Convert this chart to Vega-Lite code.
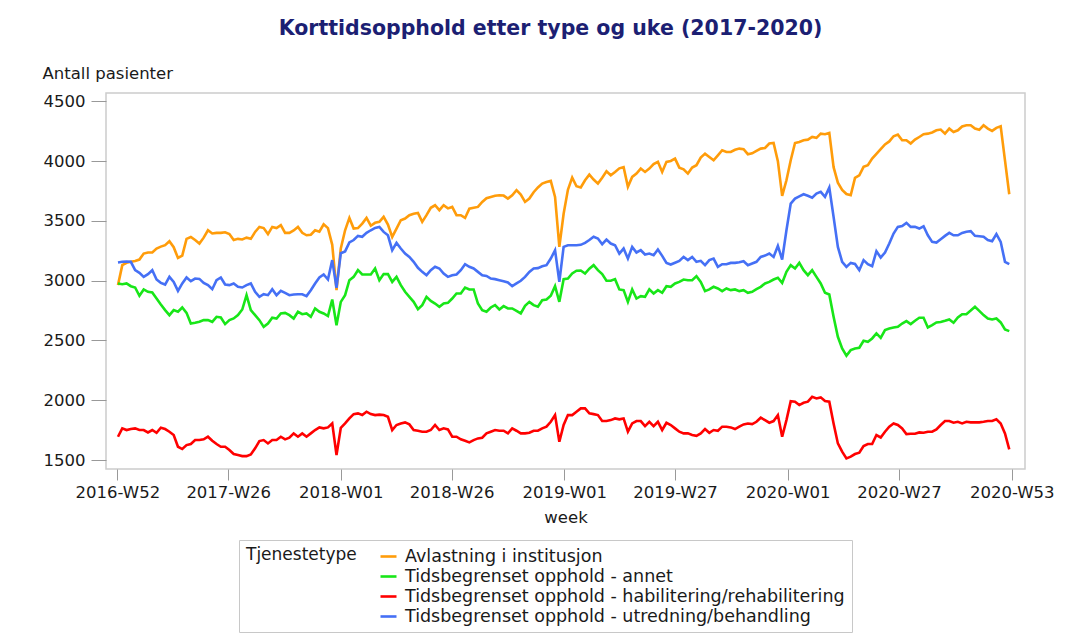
{
"$schema": "https://vega.github.io/schema/vega-lite/v6.json",
"width": 919, "height": 376,
"autosize": {"type": "none"},
"padding": {"left": 106, "top": 93, "right": 58, "bottom": 168},
"background": "white",
"title": {"text": "Korttidsopphold etter type og uke (2017-2020)", "font": "DejaVu Sans", "fontSize": 20.5, "fontWeight": "bold", "color": "#1c1f73", "anchor": "middle", "frame": "group", "offset": 26, "dx": -15},
"data": {"values": [
{"d":"2017-01-02","A":2963,"G":2977,"R":1695,"B":3152},
{"d":"2017-01-09","A":3130,"G":2971,"R":1765,"B":3158},
{"d":"2017-01-16","A":3150,"G":2977,"R":1751,"B":3160},
{"d":"2017-01-23","A":3158,"G":2954,"R":1759,"B":3158},
{"d":"2017-01-30","A":3165,"G":2943,"R":1765,"B":3088},
{"d":"2017-02-06","A":3177,"G":2874,"R":1751,"B":3066},
{"d":"2017-02-13","A":3227,"G":2927,"R":1751,"B":3032},
{"d":"2017-02-20","A":3236,"G":2907,"R":1731,"B":3055},
{"d":"2017-02-27","A":3236,"G":2901,"R":1751,"B":3088},
{"d":"2017-03-06","A":3269,"G":2851,"R":1728,"B":3010},
{"d":"2017-03-13","A":3285,"G":2801,"R":1770,"B":2982},
{"d":"2017-03-20","A":3297,"G":2754,"R":1759,"B":2968},
{"d":"2017-03-27","A":3330,"G":2712,"R":1737,"B":3032},
{"d":"2017-04-03","A":3280,"G":2754,"R":1709,"B":2990},
{"d":"2017-04-10","A":3190,"G":2740,"R":1611,"B":2915},
{"d":"2017-04-17","A":3210,"G":2776,"R":1592,"B":2977},
{"d":"2017-04-24","A":3350,"G":2731,"R":1625,"B":3027},
{"d":"2017-05-01","A":3366,"G":2642,"R":1634,"B":2996},
{"d":"2017-05-08","A":3340,"G":2648,"R":1667,"B":3018},
{"d":"2017-05-15","A":3311,"G":2656,"R":1667,"B":3015},
{"d":"2017-05-22","A":3360,"G":2670,"R":1673,"B":2982},
{"d":"2017-05-29","A":3422,"G":2670,"R":1695,"B":2963},
{"d":"2017-06-05","A":3395,"G":2656,"R":1662,"B":2929},
{"d":"2017-06-12","A":3400,"G":2698,"R":1634,"B":3004},
{"d":"2017-06-19","A":3400,"G":2692,"R":1611,"B":3027},
{"d":"2017-06-26","A":3405,"G":2637,"R":1611,"B":2968},
{"d":"2017-07-03","A":3390,"G":2670,"R":1584,"B":2963},
{"d":"2017-07-10","A":3340,"G":2684,"R":1550,"B":2977},
{"d":"2017-07-17","A":3350,"G":2712,"R":1542,"B":2949},
{"d":"2017-07-24","A":3345,"G":2759,"R":1533,"B":2943},
{"d":"2017-07-31","A":3360,"G":2879,"R":1533,"B":2963},
{"d":"2017-08-07","A":3350,"G":2754,"R":1547,"B":2977},
{"d":"2017-08-14","A":3408,"G":2712,"R":1598,"B":2907},
{"d":"2017-08-21","A":3450,"G":2670,"R":1659,"B":2865},
{"d":"2017-08-28","A":3440,"G":2614,"R":1667,"B":2887},
{"d":"2017-09-04","A":3390,"G":2642,"R":1639,"B":2879},
{"d":"2017-09-11","A":3450,"G":2690,"R":1667,"B":2929},
{"d":"2017-09-18","A":3440,"G":2684,"R":1667,"B":2879},
{"d":"2017-09-25","A":3464,"G":2726,"R":1695,"B":2915},
{"d":"2017-10-02","A":3400,"G":2731,"R":1673,"B":2898},
{"d":"2017-10-09","A":3400,"G":2712,"R":1687,"B":2879},
{"d":"2017-10-16","A":3420,"G":2684,"R":1723,"B":2885},
{"d":"2017-10-23","A":3450,"G":2740,"R":1695,"B":2887},
{"d":"2017-10-30","A":3400,"G":2720,"R":1723,"B":2887},
{"d":"2017-11-06","A":3380,"G":2726,"R":1695,"B":2871},
{"d":"2017-11-13","A":3385,"G":2698,"R":1723,"B":2921},
{"d":"2017-11-20","A":3422,"G":2768,"R":1751,"B":2977},
{"d":"2017-11-27","A":3410,"G":2740,"R":1773,"B":3027},
{"d":"2017-12-04","A":3472,"G":2726,"R":1765,"B":3052},
{"d":"2017-12-11","A":3440,"G":2704,"R":1773,"B":3010},
{"d":"2017-12-18","A":3300,"G":2843,"R":1806,"B":3172},
{"d":"2017-12-25","A":2921,"G":2628,"R":1542,"B":2940},
{"d":"2018-01-01","A":3270,"G":2823,"R":1770,"B":3230},
{"d":"2018-01-08","A":3422,"G":2879,"R":1806,"B":3245},
{"d":"2018-01-15","A":3525,"G":3004,"R":1848,"B":3320},
{"d":"2018-01-22","A":3436,"G":3032,"R":1884,"B":3340},
{"d":"2018-01-29","A":3440,"G":3088,"R":1890,"B":3375},
{"d":"2018-02-05","A":3478,"G":3052,"R":1876,"B":3367},
{"d":"2018-02-12","A":3525,"G":3052,"R":1904,"B":3400},
{"d":"2018-02-19","A":3460,"G":3052,"R":1884,"B":3422},
{"d":"2018-02-26","A":3484,"G":3102,"R":1876,"B":3442},
{"d":"2018-03-05","A":3492,"G":3004,"R":1880,"B":3450},
{"d":"2018-03-12","A":3534,"G":3055,"R":1876,"B":3408},
{"d":"2018-03-19","A":3470,"G":3055,"R":1862,"B":3380},
{"d":"2018-03-26","A":3366,"G":2990,"R":1751,"B":3255},
{"d":"2018-04-02","A":3436,"G":3032,"R":1793,"B":3316},
{"d":"2018-04-09","A":3506,"G":2963,"R":1806,"B":3269},
{"d":"2018-04-16","A":3520,"G":2907,"R":1815,"B":3227},
{"d":"2018-04-23","A":3548,"G":2865,"R":1798,"B":3199},
{"d":"2018-04-30","A":3560,"G":2823,"R":1751,"B":3158},
{"d":"2018-05-07","A":3567,"G":2762,"R":1745,"B":3108},
{"d":"2018-05-14","A":3492,"G":2796,"R":1737,"B":3074},
{"d":"2018-05-21","A":3548,"G":2865,"R":1737,"B":3046},
{"d":"2018-05-28","A":3610,"G":2831,"R":1751,"B":3088},
{"d":"2018-06-04","A":3631,"G":2809,"R":1793,"B":3116},
{"d":"2018-06-11","A":3590,"G":2782,"R":1751,"B":3102},
{"d":"2018-06-18","A":3631,"G":2809,"R":1765,"B":3060},
{"d":"2018-06-25","A":3605,"G":2815,"R":1756,"B":3032},
{"d":"2018-07-02","A":3617,"G":2851,"R":1695,"B":3046},
{"d":"2018-07-09","A":3548,"G":2893,"R":1695,"B":3052},
{"d":"2018-07-16","A":3548,"G":2893,"R":1673,"B":3088},
{"d":"2018-07-23","A":3525,"G":2943,"R":1662,"B":3138},
{"d":"2018-07-30","A":3603,"G":2927,"R":1648,"B":3116},
{"d":"2018-08-06","A":3610,"G":2927,"R":1667,"B":3102},
{"d":"2018-08-13","A":3617,"G":2809,"R":1681,"B":3074},
{"d":"2018-08-20","A":3659,"G":2754,"R":1687,"B":3046},
{"d":"2018-08-27","A":3690,"G":2740,"R":1723,"B":3040},
{"d":"2018-09-03","A":3700,"G":2776,"R":1737,"B":3018},
{"d":"2018-09-10","A":3710,"G":2796,"R":1751,"B":3013},
{"d":"2018-09-17","A":3715,"G":2759,"R":1745,"B":3004},
{"d":"2018-09-24","A":3712,"G":2787,"R":1745,"B":2995},
{"d":"2018-10-01","A":3687,"G":2768,"R":1723,"B":2985},
{"d":"2018-10-08","A":3715,"G":2768,"R":1765,"B":2954},
{"d":"2018-10-15","A":3757,"G":2748,"R":1745,"B":2977},
{"d":"2018-10-22","A":3720,"G":2726,"R":1723,"B":2999},
{"d":"2018-10-29","A":3659,"G":2790,"R":1723,"B":3032},
{"d":"2018-11-05","A":3687,"G":2823,"R":1728,"B":3074},
{"d":"2018-11-12","A":3740,"G":2796,"R":1745,"B":3102},
{"d":"2018-11-19","A":3780,"G":2782,"R":1745,"B":3105},
{"d":"2018-11-26","A":3812,"G":2837,"R":1765,"B":3121},
{"d":"2018-12-03","A":3825,"G":2843,"R":1779,"B":3130},
{"d":"2018-12-10","A":3835,"G":2874,"R":1820,"B":3185},
{"d":"2018-12-17","A":3700,"G":2954,"R":1876,"B":3255},
{"d":"2018-12-24","A":3283,"G":2823,"R":1653,"B":2990},
{"d":"2018-12-31","A":3560,"G":3013,"R":1793,"B":3283},
{"d":"2019-01-07","A":3760,"G":3018,"R":1876,"B":3297},
{"d":"2019-01-14","A":3862,"G":3060,"R":1876,"B":3297},
{"d":"2019-01-21","A":3790,"G":3083,"R":1904,"B":3297},
{"d":"2019-01-28","A":3780,"G":3085,"R":1932,"B":3300},
{"d":"2019-02-04","A":3840,"G":3060,"R":1932,"B":3316},
{"d":"2019-02-11","A":3887,"G":3100,"R":1890,"B":3340},
{"d":"2019-02-18","A":3846,"G":3130,"R":1884,"B":3367},
{"d":"2019-02-25","A":3812,"G":3088,"R":1876,"B":3353},
{"d":"2019-03-04","A":3862,"G":3055,"R":1826,"B":3305},
{"d":"2019-03-11","A":3915,"G":2999,"R":1826,"B":3344},
{"d":"2019-03-18","A":3882,"G":2999,"R":1834,"B":3311},
{"d":"2019-03-25","A":3910,"G":3013,"R":1848,"B":3297},
{"d":"2019-04-01","A":3940,"G":2927,"R":1840,"B":3227},
{"d":"2019-04-08","A":3950,"G":2921,"R":1848,"B":3269},
{"d":"2019-04-15","A":3785,"G":2823,"R":1737,"B":3185},
{"d":"2019-04-22","A":3868,"G":2927,"R":1806,"B":3283},
{"d":"2019-04-29","A":3896,"G":2851,"R":1826,"B":3236},
{"d":"2019-05-06","A":3938,"G":2871,"R":1826,"B":3255},
{"d":"2019-05-13","A":3910,"G":2865,"R":1784,"B":3219},
{"d":"2019-05-20","A":3938,"G":2927,"R":1820,"B":3227},
{"d":"2019-05-27","A":3975,"G":2893,"R":1784,"B":3213},
{"d":"2019-06-03","A":3994,"G":2921,"R":1820,"B":3261},
{"d":"2019-06-10","A":3910,"G":2899,"R":1751,"B":3208},
{"d":"2019-06-17","A":3994,"G":2954,"R":1812,"B":3149},
{"d":"2019-06-24","A":4002,"G":2949,"R":1793,"B":3135},
{"d":"2019-07-01","A":4021,"G":2977,"R":1765,"B":3150},
{"d":"2019-07-08","A":3946,"G":2990,"R":1737,"B":3165},
{"d":"2019-07-15","A":3932,"G":3010,"R":1723,"B":3199},
{"d":"2019-07-22","A":3896,"G":3004,"R":1723,"B":3172},
{"d":"2019-07-29","A":3946,"G":3004,"R":1710,"B":3199},
{"d":"2019-08-05","A":3966,"G":3038,"R":1703,"B":3158},
{"d":"2019-08-12","A":4030,"G":2990,"R":1723,"B":3166},
{"d":"2019-08-19","A":4063,"G":2913,"R":1759,"B":3130},
{"d":"2019-08-26","A":4035,"G":2927,"R":1728,"B":3172},
{"d":"2019-09-02","A":4007,"G":2949,"R":1751,"B":3185},
{"d":"2019-09-09","A":4049,"G":2935,"R":1745,"B":3116},
{"d":"2019-09-16","A":4091,"G":2913,"R":1779,"B":3138},
{"d":"2019-09-23","A":4077,"G":2935,"R":1779,"B":3138},
{"d":"2019-09-30","A":4077,"G":2921,"R":1773,"B":3149},
{"d":"2019-10-07","A":4095,"G":2927,"R":1759,"B":3149},
{"d":"2019-10-14","A":4105,"G":2913,"R":1779,"B":3155},
{"d":"2019-10-21","A":4100,"G":2921,"R":1798,"B":3163},
{"d":"2019-10-28","A":4058,"G":2899,"R":1806,"B":3130},
{"d":"2019-11-04","A":4065,"G":2907,"R":1801,"B":3144},
{"d":"2019-11-11","A":4085,"G":2929,"R":1820,"B":3158},
{"d":"2019-11-18","A":4105,"G":2949,"R":1854,"B":3199},
{"d":"2019-11-25","A":4110,"G":2977,"R":1834,"B":3210},
{"d":"2019-12-02","A":4147,"G":2990,"R":1812,"B":3227},
{"d":"2019-12-09","A":4152,"G":3010,"R":1826,"B":3199},
{"d":"2019-12-16","A":4000,"G":3025,"R":1876,"B":3291},
{"d":"2019-12-23","A":3710,"G":2982,"R":1695,"B":3177},
{"d":"2019-12-30","A":3840,"G":3074,"R":1834,"B":3422},
{"d":"2020-01-06","A":4007,"G":3130,"R":1993,"B":3645},
{"d":"2020-01-13","A":4152,"G":3102,"R":1988,"B":3687},
{"d":"2020-01-20","A":4160,"G":3149,"R":1960,"B":3706},
{"d":"2020-01-27","A":4175,"G":3088,"R":1979,"B":3723},
{"d":"2020-02-03","A":4180,"G":3046,"R":1988,"B":3710},
{"d":"2020-02-10","A":4202,"G":3088,"R":2029,"B":3695},
{"d":"2020-02-17","A":4195,"G":3032,"R":2015,"B":3729},
{"d":"2020-02-24","A":4230,"G":2977,"R":2024,"B":3743},
{"d":"2020-03-02","A":4225,"G":2899,"R":1993,"B":3701},
{"d":"2020-03-09","A":4236,"G":2885,"R":1988,"B":3779},
{"d":"2020-03-16","A":3950,"G":2698,"R":1806,"B":3534},
{"d":"2020-03-23","A":3820,"G":2531,"R":1639,"B":3283},
{"d":"2020-03-30","A":3760,"G":2433,"R":1570,"B":3158},
{"d":"2020-04-06","A":3725,"G":2372,"R":1514,"B":3116},
{"d":"2020-04-13","A":3715,"G":2419,"R":1528,"B":3149},
{"d":"2020-04-20","A":3860,"G":2433,"R":1550,"B":3140},
{"d":"2020-04-27","A":3882,"G":2439,"R":1561,"B":3088},
{"d":"2020-05-04","A":3952,"G":2497,"R":1617,"B":3172},
{"d":"2020-05-11","A":3966,"G":2489,"R":1634,"B":3138},
{"d":"2020-05-18","A":4021,"G":2517,"R":1634,"B":3121},
{"d":"2020-05-25","A":4060,"G":2559,"R":1709,"B":3247},
{"d":"2020-06-01","A":4100,"G":2522,"R":1689,"B":3194},
{"d":"2020-06-08","A":4140,"G":2587,"R":1737,"B":3236},
{"d":"2020-06-15","A":4165,"G":2600,"R":1779,"B":3311},
{"d":"2020-06-22","A":4208,"G":2609,"R":1806,"B":3394},
{"d":"2020-06-29","A":4222,"G":2614,"R":1793,"B":3450},
{"d":"2020-07-06","A":4175,"G":2642,"R":1765,"B":3458},
{"d":"2020-07-13","A":4175,"G":2662,"R":1717,"B":3484},
{"d":"2020-07-20","A":4147,"G":2637,"R":1720,"B":3450},
{"d":"2020-07-27","A":4180,"G":2665,"R":1720,"B":3450},
{"d":"2020-08-03","A":4202,"G":2690,"R":1731,"B":3436},
{"d":"2020-08-10","A":4225,"G":2690,"R":1728,"B":3455},
{"d":"2020-08-17","A":4230,"G":2609,"R":1737,"B":3380},
{"d":"2020-08-24","A":4240,"G":2628,"R":1737,"B":3325},
{"d":"2020-08-31","A":4258,"G":2651,"R":1756,"B":3319},
{"d":"2020-09-07","A":4264,"G":2655,"R":1793,"B":3347},
{"d":"2020-09-14","A":4230,"G":2665,"R":1826,"B":3375},
{"d":"2020-09-21","A":4272,"G":2676,"R":1826,"B":3400},
{"d":"2020-09-28","A":4244,"G":2648,"R":1812,"B":3380},
{"d":"2020-10-05","A":4258,"G":2692,"R":1820,"B":3380},
{"d":"2020-10-12","A":4290,"G":2720,"R":1806,"B":3400},
{"d":"2020-10-19","A":4300,"G":2720,"R":1820,"B":3410},
{"d":"2020-10-26","A":4300,"G":2750,"R":1815,"B":3414},
{"d":"2020-11-02","A":4272,"G":2782,"R":1815,"B":3375},
{"d":"2020-11-09","A":4262,"G":2748,"R":1815,"B":3372},
{"d":"2020-11-16","A":4300,"G":2712,"R":1820,"B":3367},
{"d":"2020-11-23","A":4272,"G":2684,"R":1826,"B":3340},
{"d":"2020-11-30","A":4253,"G":2676,"R":1826,"B":3330},
{"d":"2020-12-07","A":4278,"G":2684,"R":1840,"B":3389},
{"d":"2020-12-14","A":4292,"G":2651,"R":1806,"B":3325},
{"d":"2020-12-21","A":4007,"G":2592,"R":1723,"B":3158},
{"d":"2020-12-28","A":3723,"G":2578,"R":1589,"B":3138}
]},
"transform": [{"fold": ["A", "G", "R", "B"], "as": ["s", "v"]}],
"mark": {"type": "line", "strokeWidth": 2.6},
"encoding": {
  "x": {"field": "d", "type": "temporal",
        "scale": {"type": "utc", "domain": [{"year": 2016, "month": 12, "date": 13, "hours": 10, "utc": true}, {"year": 2021, "month": 1, "date": 22, "hours": 17, "utc": true}]},
        "axis": {"title": "week", "labelExpr": "utcFormat(datum.value, '%G-W%V')",
                 "values": [{"year": 2017, "month": 1, "date": 1, "utc": true}, {"year": 2017, "month": 7, "date": 1, "utc": true}, {"year": 2018, "month": 1, "date": 1, "utc": true}, {"year": 2018, "month": 7, "date": 1, "utc": true}, {"year": 2019, "month": 1, "date": 1, "utc": true}, {"year": 2019, "month": 7, "date": 1, "utc": true}, {"year": 2020, "month": 1, "date": 1, "utc": true}, {"year": 2020, "month": 7, "date": 1, "utc": true}, {"year": 2021, "month": 1, "date": 1, "utc": true}],
                 "tickSize": 11, "labelPadding": 4, "titlePadding": 9, "domain": false, "grid": false, "labelFlush": false, "labelOverlap": false}},
  "y": {"field": "v", "type": "quantitative",
        "scale": {"domain": [1425, 4570], "nice": false, "zero": false},
        "axis": {"title": "Antall pasienter", "format": "d", "values": [1500, 2000, 2500, 3000, 3500, 4000, 4500],
                 "titleAngle": 0, "titleAlign": "left", "titleBaseline": "alphabetic", "titleX": -64, "titleY": -15,
                 "tickSize": 15, "labelPadding": 6, "domain": false, "grid": false, "labelOverlap": false}},
  "color": {"field": "s", "type": "nominal",
            "scale": {"domain": ["A", "G", "R", "B"], "range": ["#FF9C0A", "#18E618", "#FF0000", "#4570F5"]},
            "legend": {"title": "Tjenestetype", "orient": "none", "legendX": 133, "legendY": 447, "direction": "vertical",
                       "titleOrient": "left", "titleAnchor": "start", "strokeColor": "#c8c8c8", "fillColor": "white", "padding": 7,
                       "symbolType": "stroke", "symbolStrokeWidth": 2.6, "symbolSize": 256,
                       "labelFontSize": 17.5, "titleFontSize": 17, "titleFontWeight": "normal",
                       "rowPadding": 2, "labelOffset": 7, "titlePadding": 22, "labelLimit": 0,
                       "labelExpr": "datum.label == 'A' ? 'Avlastning i institusjon' : datum.label == 'G' ? 'Tidsbegrenset opphold - annet' : datum.label == 'R' ? 'Tidsbegrenset opphold - habilitering/rehabilitering' : 'Tidsbegrenset opphold - utredning/behandling'"}}
},
"config": {
  "font": "DejaVu Sans",
  "axis": {"labelFontSize": 16.5, "titleFontSize": 16.5, "titleFontWeight": "normal", "labelColor": "#1a1a1a", "titleColor": "#1a1a1a", "tickColor": "#999999"},
  "legend": {"labelColor": "#1a1a1a", "titleColor": "#1a1a1a"},
  "view": {"stroke": "#cccccc", "strokeWidth": 1.5}
}
}
